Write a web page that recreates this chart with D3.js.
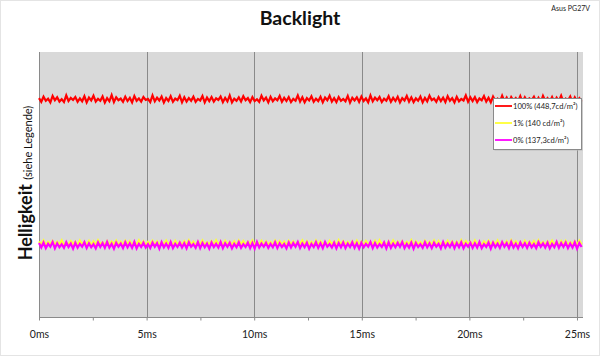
<!DOCTYPE html>
<html><head><meta charset="utf-8">
<script src="https://cdn.jsdelivr.net/npm/d3@7"></script>
<style>body{margin:0;background:#fff}svg{display:block}</style>
</head><body>
<svg id="c" width="600" height="356"></svg>
<script>
const chartTitle = "Backlight";
const deviceLabel = "Asus PG27V";
const xTickValues = [0, 5, 10, 15, 20, 25];
const xTickLabels = ["0ms", "5ms", "10ms", "15ms", "20ms", "25ms"];
const xMax = 25.28;
const sampleInterval = 0.1055; // ms per sample
const seriesNames = ["100% (448,7cd/m²)", "1% (140 cd/m²)", "0% (137,3cd/m²)"];
const seriesColors = ["#ff0000", "#ffff33", "#ff00ff"];

const red = [
82.6,81.2,83.1,81.6,82.4,81.0,83.4,81.8,82.9,81.3,82.2,81.1,83.6,81.5,82.7,81.9,83.0,81.2,82.5,81.4,
83.3,81.0,82.8,81.7,83.5,81.3,82.3,81.6,83.2,80.9,82.6,81.4,83.7,81.1,82.9,81.8,82.4,81.2,83.1,81.5,
82.7,81.0,83.4,81.6,82.5,81.3,83.0,81.9,82.3,81.1,83.6,81.4,82.8,81.7,83.2,80.9,82.6,81.5,83.3,81.2,
82.4,81.8,83.5,81.0,82.9,81.3,82.6,81.6,83.1,81.2,82.3,81.7,83.4,81.0,82.8,81.5,83.0,81.3,82.5,81.9,
83.2,81.1,82.7,81.4,83.6,81.0,82.4,81.6,82.9,81.3,83.3,81.8,82.6,81.1,83.0,81.5,82.2,81.2,83.5,81.7,
82.8,81.0,83.1,81.4,82.5,81.8,83.4,81.2,82.7,81.5,83.0,81.1,82.3,81.6,83.6,81.3,82.9,81.0,82.6,81.7,
83.3,81.2,82.4,81.5,83.1,81.0,82.8,81.8,83.5,81.3,82.6,81.1,83.0,81.6,82.3,81.4,83.4,80.9,82.7,81.7,
82.9,81.2,83.2,81.5,82.5,81.0,83.6,81.4,82.8,81.8,83.0,81.1,82.4,81.6,83.3,81.2,82.7,81.5,83.1,81.0,
82.6,81.7,83.4,81.3,82.9,81.1,82.5,81.6,83.2,81.0,82.7,81.4,83.5,81.8,82.4,81.2,83.0,81.5,82.8,81.1,
83.3,81.6,82.6,81.0,83.1,81.4,82.3,81.7,83.6,81.2,82.9,81.5,83.0,81.1,82.5,81.8,83.4,81.3,82.7,81.0,
83.2,81.6,82.4,81.2,83.5,81.4,82.8,81.0,83.0,81.7,82.6,81.3,83.3,81.1,82.9,81.5,82.5,81.8,83.1,81.2,
82.7,81.0,83.4,81.6,82.6,81.3,83.0,81.1,82.8,81.5,83.5,81.2,82.4,81.7,83.2,81.0,82.9,81.4,82.6,81.3
];
const yellow = [
28.5,27.3,28.8,27.1,28.3,27.5,28.7,27.2,28.4,27.4,28.9,27.0,28.2,27.3,28.6,27.5,28.4,27.1,28.8,27.3,
28.3,27.4,28.7,27.0,28.5,27.2,28.9,27.4,28.2,27.1,28.6,27.3,28.4,27.5,28.8,27.0,28.3,27.2,28.7,27.4,
28.6,27.1,28.4,27.3,28.9,27.2,28.5,27.0,28.3,27.4,28.7,27.1,28.5,27.3,28.2,27.5,28.8,27.2,28.4,27.0,
28.7,27.3,28.3,27.1,28.6,27.4,28.9,27.2,28.4,27.0,28.5,27.3,28.8,27.1,28.2,27.4,28.6,27.2,28.9,27.3,
28.4,27.1,28.7,27.4,28.3,27.2,28.5,27.0,28.8,27.3,28.6,27.1,28.4,27.5,28.9,27.2,28.3,27.4,28.7,27.0,
28.5,27.3,28.2,27.1,28.8,27.4,28.6,27.2,28.4,27.0,28.7,27.3,28.5,27.1,28.3,27.5,28.9,27.2,28.6,27.4,
28.3,27.0,28.8,27.2,28.5,27.4,28.2,27.1,28.7,27.3,28.4,27.0,28.9,27.2,28.6,27.4,28.3,27.1,28.5,27.3,
28.8,27.2,28.4,27.0,28.6,27.3,28.3,27.5,28.7,27.1,28.9,27.4,28.2,27.2,28.5,27.0,28.8,27.3,28.4,27.1,
28.6,27.4,28.3,27.2,28.9,27.0,28.5,27.3,28.2,27.1,28.7,27.4,28.4,27.2,28.8,27.0,28.6,27.3,28.3,27.5,
28.7,27.1,28.5,27.3,28.4,27.0,28.9,27.2,28.6,27.4,28.3,27.1,28.8,27.3,28.2,27.0,28.5,27.4,28.7,27.2,
28.4,27.3,28.8,27.1,28.3,27.4,28.6,27.0,28.9,27.2,28.5,27.3,28.2,27.1,28.7,27.4,28.4,27.2,28.6,27.0,
28.9,27.3,28.3,27.1,28.5,27.4,28.8,27.2,28.4,27.0,28.6,27.3,28.7,27.1,28.2,27.4,28.5,27.2,28.8,27.3
];
const magenta = [
27.9,26.2,28.1,26.0,27.6,26.5,28.3,25.9,27.8,26.3,27.5,26.1,28.2,26.4,27.7,25.8,28.0,26.2,27.6,26.5,
28.2,26.0,27.8,26.3,27.5,25.9,28.1,26.4,27.9,26.1,28.3,26.2,27.6,25.8,28.0,26.5,27.7,26.0,28.2,26.3,
27.8,26.1,28.3,25.9,27.6,26.4,28.0,26.2,27.5,26.0,28.1,26.5,27.9,25.8,28.2,26.3,27.7,26.1,28.3,26.0,
27.6,26.4,28.0,26.2,27.8,25.9,28.2,26.5,27.5,26.1,28.3,26.0,27.9,26.3,27.7,25.8,28.1,26.4,27.6,26.2,
28.3,26.0,27.8,26.5,28.0,25.9,27.6,26.3,28.2,26.1,27.5,26.4,28.1,26.0,27.9,25.8,28.3,26.2,27.7,26.5,
28.0,26.1,27.6,26.3,28.2,26.0,27.8,26.4,27.5,25.9,28.1,26.2,27.9,26.5,28.3,26.0,27.7,26.3,28.0,25.8,
27.6,26.4,28.2,26.1,27.8,26.0,28.3,26.5,27.5,26.2,28.0,25.9,27.9,26.3,28.1,26.0,27.7,26.4,28.2,26.1,
27.8,25.8,28.0,26.3,27.6,26.5,28.3,26.0,27.9,26.2,27.5,26.4,28.1,25.9,28.2,26.1,27.7,26.3,28.0,26.5,
28.3,26.0,27.6,26.2,28.1,25.8,27.9,26.4,27.5,26.1,28.2,26.3,27.8,26.0,28.0,26.5,27.6,25.9,28.3,26.2,
27.7,26.4,28.1,26.0,27.9,26.3,28.2,25.9,27.6,26.5,28.0,26.1,27.8,26.2,28.3,26.0,27.5,26.4,28.1,25.8,
28.0,26.3,27.7,26.1,28.2,26.5,27.9,26.0,28.3,26.2,27.6,25.9,28.1,26.4,27.8,26.1,28.0,26.3,27.5,26.0,
28.2,26.5,27.8,26.2,28.0,25.9,27.6,26.3,28.3,26.1,27.9,26.4,28.1,26.0,27.7,26.2,28.2,25.8,27.9,26.4
];
const seriesValues = [red, yellow, magenta];

const svg = d3.select("#c");
const font = "Lato, 'Open Sans', sans-serif";
const m = {left: 39, right: 583, top: 52, bottom: 317};

svg.append("rect").attr("x",0.5).attr("y",0.5).attr("width",599).attr("height",355)
  .attr("fill","#fff").attr("stroke","#e4e4e4");

const x = d3.scaleLinear().domain([0, xMax]).range([m.left, m.right]);
const y = d3.scaleLinear().domain([0, 100]).range([m.bottom, m.top]);

svg.append("rect").attr("x", m.left).attr("y", m.top)
  .attr("width", m.right - m.left).attr("height", m.bottom - m.top).attr("fill", "#d9d9d9");

svg.append("g").selectAll("line").data(xTickValues.slice(1)).join("line")
  .attr("x1", d => Math.round(x(d)) + 0.5).attr("x2", d => Math.round(x(d)) + 0.5)
  .attr("y1", m.top).attr("y2", m.bottom).attr("stroke", "#8a8a8a").attr("stroke-width", 1);

svg.append("line").attr("x1", m.left + 0.5).attr("x2", m.left + 0.5)
  .attr("y1", m.top).attr("y2", m.bottom).attr("stroke", "#8a8a8a");

const line = d3.line().x((d, i) => x(i * sampleInterval)).y(d => y(d));
seriesValues.forEach((vals, k) => {
  svg.append("path").datum(vals).attr("d", line).attr("fill", "none")
    .attr("stroke", seriesColors[k]).attr("stroke-width", 2.2).attr("stroke-linejoin", "miter");
});

const minorTicks = d3.range(0, 25.01, 2.5);
const xAxis = d3.axisBottom(x).tickValues(minorTicks)
  .tickFormat(d => { const i = xTickValues.indexOf(d); return i >= 0 ? xTickLabels[i] : ""; })
  .tickSize(3).tickPadding(10);
const ga = svg.append("g").attr("transform", `translate(0,${m.bottom + 0.5})`).call(xAxis);
ga.select(".domain").attr("stroke", "#8a8a8a").attr("d", `M${m.left},0H${m.right}`);
ga.selectAll(".tick line").attr("stroke", "#8a8a8a");
ga.selectAll(".tick text").attr("font-family", font).attr("font-size", 10.5).attr("fill", "#222");

svg.append("text").attr("x", 300).attr("y", 25).attr("text-anchor", "middle")
  .attr("font-family", font).attr("font-weight", "bold").attr("font-size", 19.5)
  .attr("fill", "#111").text(chartTitle);
svg.append("text").attr("x", 590).attr("y", 11).attr("text-anchor", "end")
  .attr("font-family", font).attr("font-size", 7).attr("fill", "#222").text(deviceLabel);

const yl = svg.append("text").attr("transform", "translate(32,183) rotate(-90)")
  .attr("text-anchor", "middle").attr("font-family", font).attr("fill", "#111");
yl.append("tspan").attr("font-size", 18).attr("font-weight", "bold").text("Helligkeit ");
yl.append("tspan").attr("font-size", 11).text("(siehe Legende)");

const lg = svg.append("g").attr("transform", "translate(493,98)");
lg.append("rect").attr("x", 1.5).attr("y", 1.5).attr("width", 88).attr("height", 51).attr("fill", "#bbb");
lg.append("rect").attr("x", 0.5).attr("y", 0.5).attr("width", 88).attr("height", 51)
  .attr("fill", "#fff").attr("stroke", "#8a8a8a");
seriesNames.forEach((name, k) => {
  const yy = 8 + k * 17;
  lg.append("line").attr("x1", 2).attr("x2", 19).attr("y1", yy).attr("y2", yy)
    .attr("stroke", seriesColors[k]).attr("stroke-width", 1.8);
  lg.append("text").attr("x", 20).attr("y", yy + 2.8).attr("font-family", font)
    .attr("font-size", 7.6).attr("fill", "#222").text(name);
});
</script>
</body></html>
